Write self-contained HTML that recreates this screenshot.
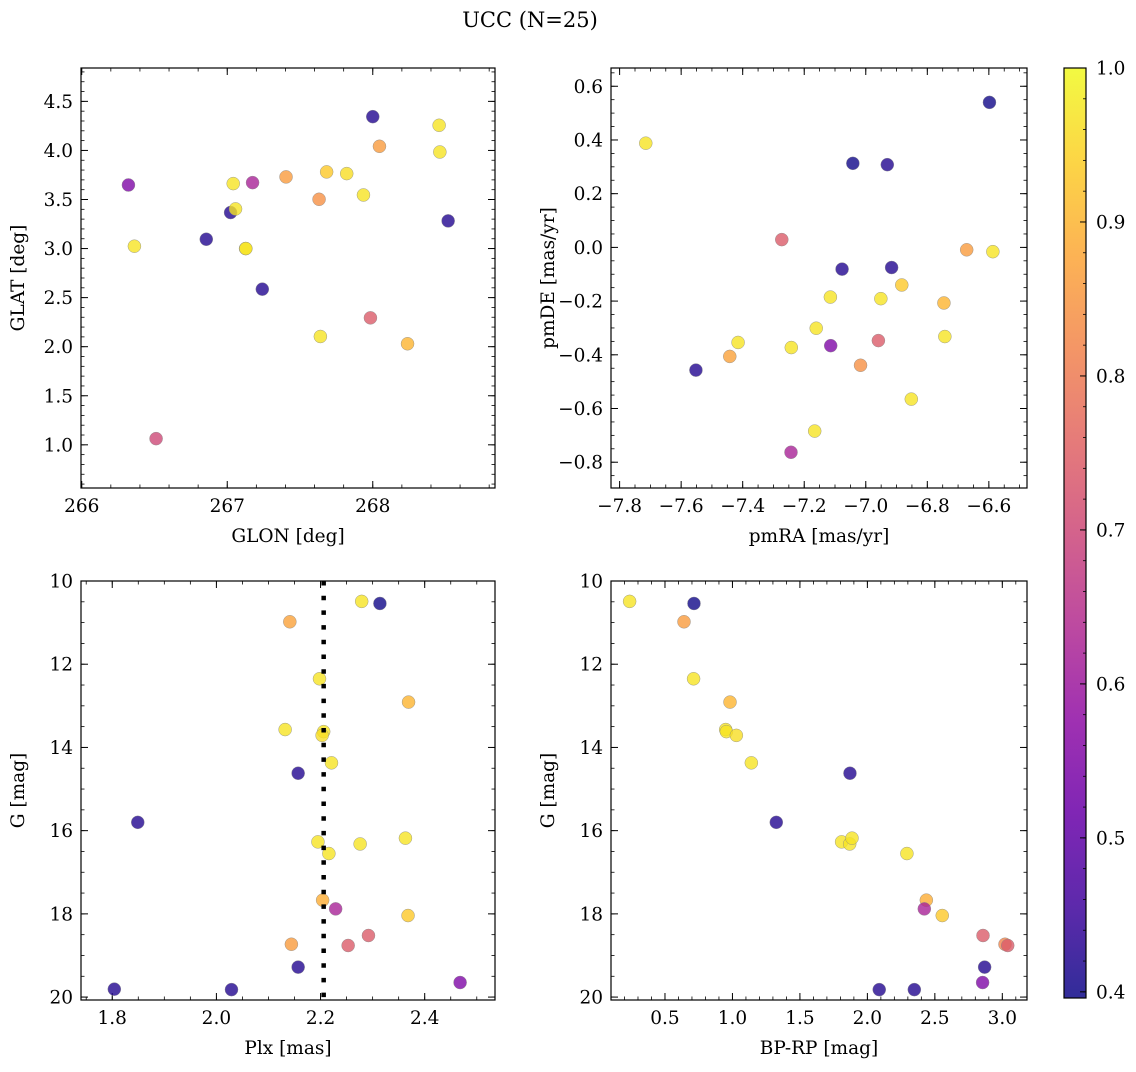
<!DOCTYPE html>
<html><head><meta charset="utf-8">
<style>
body{margin:0;background:#fff;}
svg text{font-family:"DejaVu Serif","Liberation Serif",serif;fill:#000;}
</style></head>
<body>
<svg id="fig" width="1136" height="1067" xmlns="http://www.w3.org/2000/svg">
<defs>
<linearGradient id="plasma" x1="0" y1="1" x2="0" y2="0">
<stop offset="0" stop-color="#0d0887"/><stop offset="0.1" stop-color="#41049d"/><stop offset="0.2" stop-color="#6a00a8"/><stop offset="0.3" stop-color="#8f0da4"/><stop offset="0.4" stop-color="#b12a90"/><stop offset="0.5" stop-color="#cc4778"/><stop offset="0.6" stop-color="#e16462"/><stop offset="0.7" stop-color="#f2844b"/><stop offset="0.8" stop-color="#fca636"/><stop offset="0.9" stop-color="#fcce25"/><stop offset="1" stop-color="#f0f921"/>
</linearGradient>
</defs>
<text x="530" y="27" text-anchor="middle" font-size="21">UCC (N=25)</text>
</svg>
<script>
// Panel 1: GLON / GLAT
const p1X=[266.321,266.362,266.511,266.856,267.023,267.041,267.057,267.126,267.128,267.174,267.241,267.404,267.631,267.640,267.683,267.821,267.936,268.000,267.984,268.046,268.239,268.456,268.461,268.518];
const p1Y=[3.648,3.024,1.063,3.095,3.367,3.662,3.404,3.000,3.000,3.672,2.586,3.730,3.502,2.104,3.781,3.764,3.546,4.344,2.294,4.042,2.030,4.256,3.984,3.282];
const p1C=[0.55,0.97,0.70,0.42,0.42,0.97,0.97,0.97,0.97,0.62,0.42,0.86,0.84,0.97,0.93,0.96,0.97,0.42,0.74,0.86,0.90,0.97,0.97,0.42];
// Panel 2: pmRA / pmDE
const p2X=[-7.715,-6.598,-7.042,-6.930,-7.273,-6.672,-6.587,-7.077,-6.916,-6.883,-7.115,-6.951,-6.746,-7.161,-6.743,-7.415,-7.242,-7.114,-6.959,-7.442,-7.017,-7.552,-6.852,-7.166,-7.243];
const p2Y=[0.388,0.540,0.313,0.308,0.029,-0.009,-0.016,-0.081,-0.075,-0.140,-0.185,-0.191,-0.207,-0.301,-0.332,-0.354,-0.373,-0.366,-0.347,-0.406,-0.439,-0.457,-0.565,-0.684,-0.763];
const p2C=[0.97,0.40,0.40,0.42,0.74,0.86,0.97,0.42,0.42,0.93,0.97,0.97,0.90,0.97,0.97,0.97,0.97,0.55,0.74,0.87,0.84,0.42,0.97,0.97,0.62];
// Panel 3: Plx / G
const p3X=[2.279,2.314,2.141,2.198,2.369,2.132,2.206,2.203,2.221,2.157,1.849,2.195,2.276,2.363,2.216,2.204,2.229,2.368,2.292,2.144,2.253,2.157,1.804,2.029,2.468];
const p3Y=[10.49,10.54,10.98,12.35,12.91,13.57,13.62,13.71,14.37,14.62,15.80,16.27,16.32,16.18,16.55,17.67,17.88,18.04,18.52,18.73,18.76,19.28,19.81,19.82,19.65];
const p3C=[0.97,0.40,0.87,0.97,0.90,0.97,0.97,0.96,0.97,0.42,0.42,0.97,0.97,0.97,0.97,0.89,0.62,0.93,0.74,0.86,0.74,0.42,0.42,0.42,0.55];
const plxLine=2.206;
// Panel 4: BP-RP / G
const p4X=[0.238,0.715,0.641,0.712,0.982,0.950,0.955,1.029,1.140,1.871,1.325,1.809,1.869,1.886,2.293,2.437,2.422,2.555,2.857,3.020,3.040,2.869,2.854,2.088,2.348];
const p4Y=[10.49,10.54,10.98,12.35,12.91,13.57,13.62,13.71,14.37,14.62,15.80,16.27,16.32,16.18,16.55,17.67,17.88,18.04,18.52,18.73,18.76,19.28,19.65,19.82,19.82];
const p4C=[0.97,0.40,0.86,0.97,0.90,0.97,0.97,0.96,0.97,0.42,0.42,0.97,0.97,0.97,0.97,0.89,0.62,0.93,0.74,0.82,0.74,0.42,0.55,0.42,0.42];
const cbTicks=[0.4,0.5,0.6,0.7,0.8,0.9,1.0];

const NS="http://www.w3.org/2000/svg";
const svg=document.getElementById('fig');
const VMIN=0.396,VMAX=1.0;
const FS=18.5;
const stops=["#0d0887","#41049d","#6a00a8","#8f0da4","#b12a90","#cc4778","#e16462","#f2844b","#fca636","#fcce25","#f0f921"];
function hex(h){return [1,3,5].map(i=>parseInt(h.substr(i,2),16));}
function cmap(v){let t=(v-VMIN)/(VMAX-VMIN);t=Math.max(0,Math.min(1,t));const s=t*10,i=Math.min(9,Math.floor(s)),f=s-i;const a=hex(stops[i]),b=hex(stops[i+1]);return 'rgb('+a.map((x,k)=>Math.round(x+(b[k]-x)*f)).join(',')+')';}
function el(tag,attrs,parent){const e=document.createElementNS(NS,tag);for(const k in attrs)e.setAttribute(k,attrs[k]);(parent||svg).appendChild(e);return e;}
function fmt(v,d){return v.toFixed(d).replace('-','\u2212');}

function panel(o){
  const g=el('g',{});
  
  
  const sx=v=>o.L+(v-o.x0)/(o.x1-o.x0)*(o.R-o.L);
  const sy=v=>o.B-(v-o.y0)/(o.y1-o.y0)*(o.B-o.T);
  const eps=1e-9;
  function ticks(a,b,step){const r=[];const lo=Math.min(a,b),hi=Math.max(a,b);for(let k=Math.ceil(lo/step-eps);k*step<=hi+eps;k++)r.push(k*step);return r;}
  ticks(o.x0,o.x1,o.xminor).forEach(v=>{const x=sx(v);el('line',{x1:x,x2:x,y1:o.B,y2:o.B-3.5,stroke:'#000','stroke-width':0.8},g);el('line',{x1:x,x2:x,y1:o.T,y2:o.T+3.5,stroke:'#000','stroke-width':0.8},g);});
  ticks(o.y0,o.y1,o.yminor).forEach(v=>{const y=sy(v);el('line',{x1:o.L,x2:o.L+3.5,y1:y,y2:y,stroke:'#000','stroke-width':0.8},g);el('line',{x1:o.R,x2:o.R-3.5,y1:y,y2:y,stroke:'#000','stroke-width':0.8},g);});
  ticks(o.x0,o.x1,o.xmajor).forEach(v=>{const x=sx(v);el('line',{x1:x,x2:x,y1:o.B,y2:o.B-7,stroke:'#000','stroke-width':1},g);el('line',{x1:x,x2:x,y1:o.T,y2:o.T+7,stroke:'#000','stroke-width':1},g);
    const t=el('text',{x:x,y:o.B+24,'text-anchor':'middle','font-size':FS},g);t.textContent=fmt(v,o.xd);});
  ticks(o.y0,o.y1,o.ymajor).forEach(v=>{const y=sy(v);el('line',{x1:o.L,x2:o.L+7,y1:y,y2:y,stroke:'#000','stroke-width':1},g);el('line',{x1:o.R,x2:o.R-7,y1:y,y2:y,stroke:'#000','stroke-width':1},g);
    const t=el('text',{x:o.L-8,y:y+6.5,'text-anchor':'end','font-size':FS},g);t.textContent=fmt(v,o.yd);});
  o.X.forEach((xv,i)=>{const c=el('circle',{cx:sx(xv),cy:sy(o.Y[i]),r:6.5,fill:cmap(o.C[i]),'fill-opacity':0.8,stroke:'#888','stroke-width':0.4},g);
    
    });
  if(o.vline!==undefined){const x=sx(o.vline);const l=el('line',{x1:x,x2:x,y1:o.T,y2:o.B,stroke:'#000','stroke-width':4.5,'stroke-dasharray':'4.5,10.2'},g);
    
    }
  el('rect',{x:o.L,y:o.T,width:o.R-o.L,height:o.B-o.T,fill:'none',stroke:'#000','stroke-width':1.2},g);
  const xl=el('text',{x:(o.L+o.R)/2,y:o.B+54,'text-anchor':'middle','font-size':FS},g);xl.textContent=o.xlabel;
  
  
  const yx=o.L-57,yy=(o.T+o.B)/2;
  const yl=el('text',{x:yx,y:yy,'text-anchor':'middle','font-size':FS,transform:'rotate(-90 '+yx+' '+yy+')'},g);yl.textContent=o.ylabel;
  
  
}
panel({name:'glon-glat-panel',L:81,R:495,T:68,B:488,x0:265.995,x1:268.84,y0:0.56,y1:4.84,xmajor:1,xminor:0.2,ymajor:0.5,yminor:0.1,xd:0,yd:1,X:p1X,Y:p1Y,C:p1C,xlabel:'GLON [deg]',ylabel:'GLAT [deg]'});
panel({name:'proper-motion-panel',L:611,R:1027,T:68,B:488,x0:-7.828,x1:-6.476,y0:-0.896,y1:0.668,xmajor:0.2,xminor:0.05,ymajor:0.2,yminor:0.05,xd:1,yd:1,X:p2X,Y:p2Y,C:p2C,xlabel:'pmRA [mas/yr]',ylabel:'pmDE [mas/yr]'});
panel({name:'plx-g-panel',L:81,R:495,T:581,B:1000,x0:1.740,x1:2.535,y0:20.07,y1:10.0,xmajor:0.2,xminor:0.05,ymajor:2,yminor:0.5,xd:1,yd:0,X:p3X,Y:p3Y,C:p3C,vline:plxLine,xlabel:'Plx [mas]',ylabel:'G [mag]'});
panel({name:'cmd-panel',L:611,R:1027,T:581,B:1000,x0:0.100,x1:3.183,y0:20.07,y1:10.0,xmajor:0.5,xminor:0.1,ymajor:2,yminor:0.5,xd:1,yd:0,X:p4X,Y:p4Y,C:p4C,xlabel:'BP-RP [mag]',ylabel:'G [mag]'});

const cb=el('g',{});


const cT=68,cB=998,cL=1064,cR=1086;
el('rect',{x:cL,y:cT,width:cR-cL,height:cB-cT,fill:'url(#plasma)','fill-opacity':0.85,stroke:'#000','stroke-width':1.2},cb);
const cy=v=>cB-(v-VMIN)/(VMAX-VMIN)*(cB-cT);
for(let k=20;k<=50;k++){const y=cy(k*0.02);el('line',{x1:cR,x2:cR-3,y1:y,y2:y,stroke:'#000','stroke-width':0.8},cb);}
cbTicks.forEach(v=>{const y=cy(v);el('line',{x1:cR,x2:cR-6,y1:y,y2:y,stroke:'#000','stroke-width':1},cb);
  const t=el('text',{x:cR+10,y:y+6.5,'font-size':FS},cb);t.textContent=v.toFixed(1);
  
  });
</script>
</body></html>
